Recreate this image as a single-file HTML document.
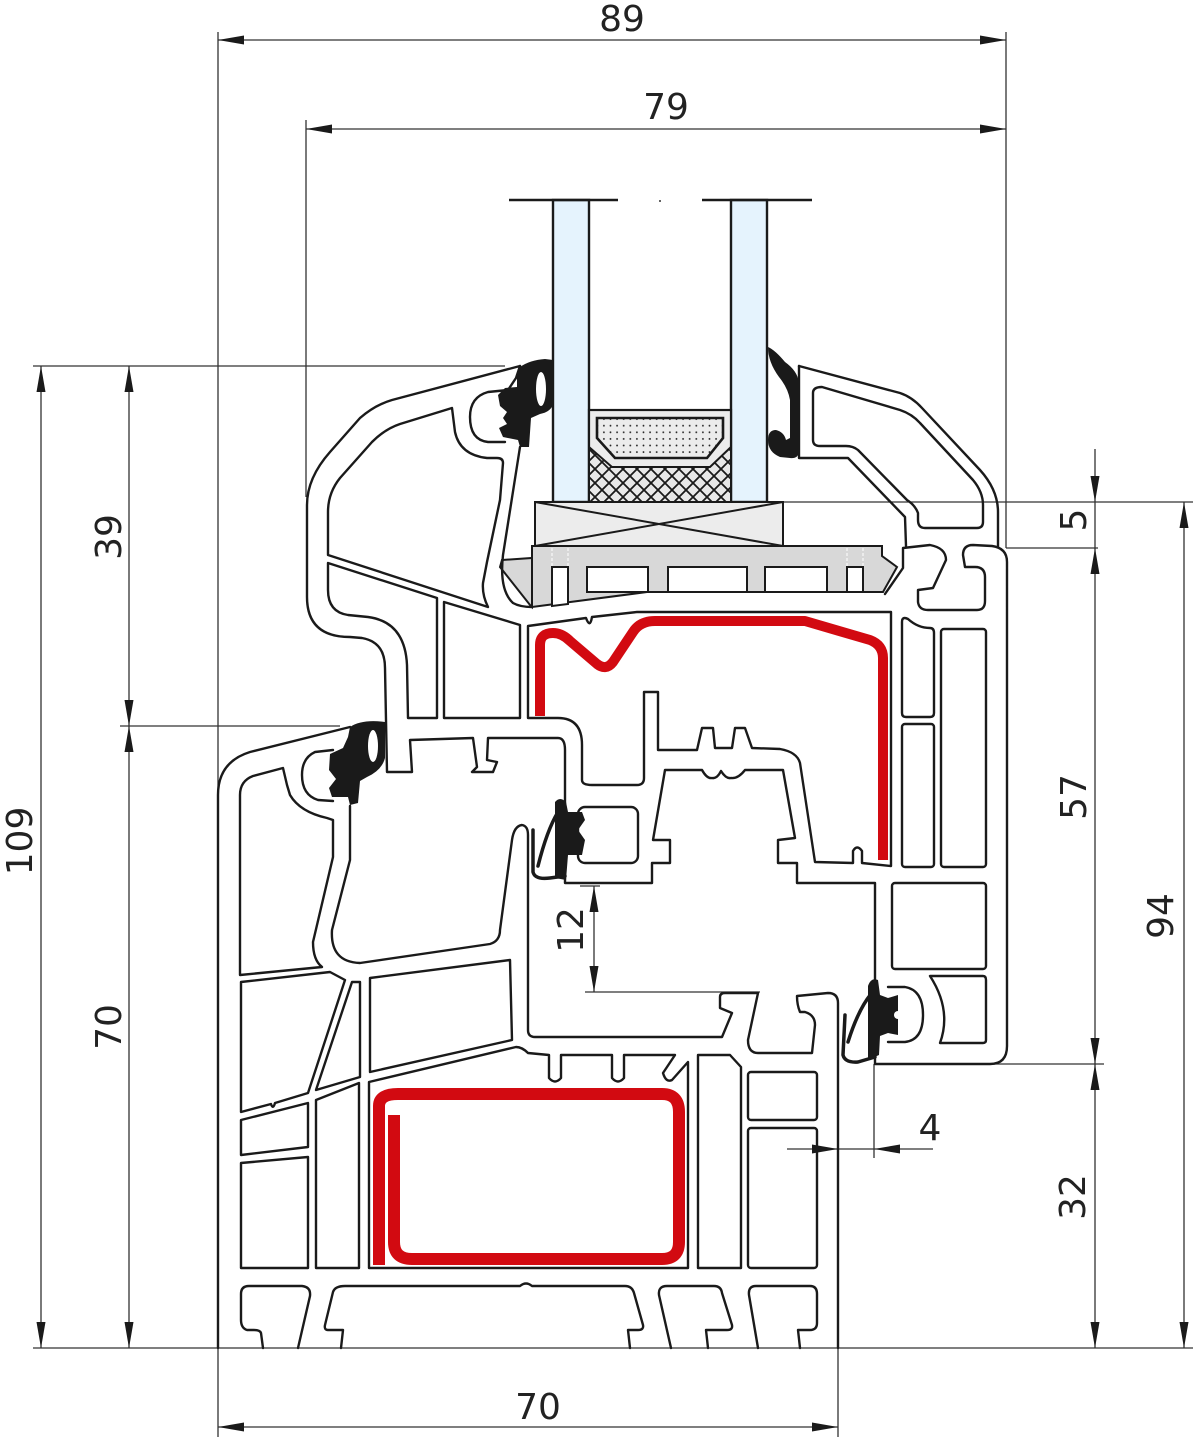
<!DOCTYPE html>
<html><head><meta charset="utf-8">
<style>
html,body{margin:0;padding:0;background:#fff;}
svg{display:block;}
</style></head><body>
<svg width="1193" height="1437" viewBox="0 0 1193 1437" xmlns="http://www.w3.org/2000/svg">
<defs>
<pattern id="dots" width="6.6" height="6.6" patternUnits="userSpaceOnUse"><rect width="6.6" height="6.6" fill="#ececec"/><circle cx="3.3" cy="3.3" r="0.9" fill="#222"/></pattern>
<pattern id="hatch" width="14" height="14" patternUnits="userSpaceOnUse"><rect width="14" height="14" fill="#e8e8e8"/><path d="M-1,-1 L15,15 M15,-1 L-1,15" stroke="#1a1a1a" stroke-width="1.8"/></pattern>
</defs>
<rect width="1193" height="1437" fill="#fff"/>

<!-- ============ DIMENSION LINES ============ -->
<g stroke="#333" stroke-width="1.3" fill="none">
  <line x1="218" y1="32" x2="218" y2="1437"/>
  <line x1="306" y1="120" x2="306" y2="497"/>
  <line x1="1006" y1="32" x2="1006" y2="548"/>
  <line x1="218" y1="40" x2="1006" y2="40"/>
  <line x1="306" y1="129" x2="1006" y2="129"/>
  <line x1="33" y1="366" x2="505" y2="366"/>
  <line x1="120" y1="726" x2="340" y2="726"/>
  <line x1="41" y1="366" x2="41" y2="1348"/>
  <line x1="129" y1="366" x2="129" y2="1348"/>
  <line x1="33" y1="1348" x2="1193" y2="1348"/>
  <line x1="838" y1="1348" x2="838" y2="1437"/>
  <line x1="218" y1="1427" x2="838" y2="1427"/>
  <line x1="783" y1="502" x2="1193" y2="502"/>
  <line x1="1006" y1="548" x2="1098" y2="548"/>
  <line x1="1095" y1="449" x2="1095" y2="1348"/>
  <line x1="987" y1="1064" x2="1104" y2="1064"/>
  <line x1="1184" y1="502" x2="1184" y2="1348"/>
  <line x1="594" y1="886" x2="594" y2="992"/>
  <line x1="580" y1="886" x2="600" y2="886"/>
  <line x1="585" y1="992" x2="760" y2="992"/>
  <line x1="787" y1="1149" x2="933" y2="1149"/>
  <line x1="874" y1="1064" x2="874" y2="1158"/>
</g>
<g fill="#1a1a1a">
  <!-- horizontal arrows -->
  <polygon points="218,40 244,35.5 244,44.5"/>
  <polygon points="1006,40 980,35.5 980,44.5"/>
  <polygon points="306,129 332,124.5 332,133.5"/>
  <polygon points="1006,129 980,124.5 980,133.5"/>
  <polygon points="218,1427 244,1422.5 244,1431.5"/>
  <polygon points="838,1427 812,1422.5 812,1431.5"/>
  <polygon points="838,1149 812,1144.5 812,1153.5"/>
  <polygon points="874,1149 900,1144.5 900,1153.5"/>
  <!-- vertical arrows -->
  <polygon points="41,366 36.5,392 45.5,392"/>
  <polygon points="41,1348 36.5,1322 45.5,1322"/>
  <polygon points="129,366 124.5,392 133.5,392"/>
  <polygon points="129,726 124.5,700 133.5,700"/>
  <polygon points="129,726 124.5,752 133.5,752"/>
  <polygon points="129,1348 124.5,1322 133.5,1322"/>
  <polygon points="1095,502 1090.5,476 1099.5,476"/>
  <polygon points="1095,548 1090.5,574 1099.5,574"/>
  <polygon points="1095,1064 1090.5,1038 1099.5,1038"/>
  <polygon points="1095,1064 1090.5,1090 1099.5,1090"/>
  <polygon points="1095,1348 1090.5,1322 1099.5,1322"/>
  <polygon points="1184,502 1179.5,528 1188.5,528"/>
  <polygon points="1184,1348 1179.5,1322 1188.5,1322"/>
  <polygon points="594,886 589.5,912 598.5,912"/>
  <polygon points="594,992 589.5,966 598.5,966"/>
</g>

<!-- dimension texts -->
<g font-family="'DejaVu Sans','Liberation Sans',sans-serif" font-size="36" fill="#222" text-anchor="middle">
  <text x="622" y="31">89</text>
  <text x="666" y="119">79</text>
  <text x="538" y="1419">70</text>
  <text x="930" y="1140">4</text>
  <text transform="translate(19,841) rotate(-90)" y="13">109</text>
  <text transform="translate(108,537) rotate(-90)" y="13">39</text>
  <text transform="translate(108,1027) rotate(-90)" y="13">70</text>
  <text transform="translate(570,930) rotate(-90)" y="13">12</text>
  <text transform="translate(1073,520) rotate(-90)" y="13">5</text>
  <text transform="translate(1073,797) rotate(-90)" y="13">57</text>
  <text transform="translate(1160,916) rotate(-90)" y="13">94</text>
  <text transform="translate(1072,1197) rotate(-90)" y="13">32</text>
</g>

<!-- ============ GLASS ============ -->
<g stroke="#1a1a1a" stroke-width="2.4">
  <rect x="553" y="200" width="36" height="302" fill="#e5f3fd"/>
  <rect x="731" y="200" width="36" height="302" fill="#e5f3fd"/>
  <line x1="509" y1="200" x2="618" y2="200"/>
  <line x1="702" y1="200" x2="812" y2="200"/>
</g>
<circle cx="660" cy="201" r="1" fill="#333"/>

<!-- spacer -->
<rect x="589" y="410" width="142" height="92" fill="#ececec" stroke="#1a1a1a" stroke-width="2.2"/>
<polygon points="589,447 612,467 710,467 731,447 731,502 589,502" fill="url(#hatch)" stroke="#1a1a1a" stroke-width="2"/>
<polygon points="597,418 723,418 723,438 707,458 615,458 597,438" fill="url(#dots)" stroke="#1a1a1a" stroke-width="2.6"/>

<!-- glazing block X-box -->
<g stroke="#1a1a1a" stroke-width="2">
  <rect x="535" y="502" width="248" height="44" fill="#ececec"/>
  <line x1="535" y1="502" x2="783" y2="546"/>
  <line x1="535" y1="546" x2="783" y2="502"/>
</g>

<!-- shim -->
<g stroke="#1a1a1a" stroke-width="2">
  <polygon points="502,560 532,558 532,607 530,605 500,567" fill="#d8d8d8"/>
  <polygon points="532,546 882,546 882,556 897,567 883,592 647,592 532,607" fill="#d8d8d8"/>
  <rect x="587" y="567" width="61" height="25" fill="#fff"/>
  <rect x="668" y="567" width="79" height="25" fill="#fff"/>
  <rect x="765" y="567" width="62" height="25" fill="#fff"/>
  <polygon points="552,567 568,567 568,604 552,606" fill="#fff"/>
  <rect x="847" y="567" width="16" height="25" fill="#fff"/>
</g>
<g stroke="#fff" stroke-width="1" stroke-dasharray="3,2">
  <line x1="552" y1="548" x2="552" y2="566"/>
  <line x1="568" y1="548" x2="568" y2="566"/>
  <line x1="847" y1="548" x2="847" y2="566"/>
  <line x1="863" y1="548" x2="863" y2="566"/>
</g>

<!-- ============ PROFILE OUTLINES ============ -->
<g fill="none" stroke="#1a1a1a" stroke-width="2.4" stroke-linejoin="round" stroke-linecap="round">
  <!-- sash outer contour -->
  <path d="M520,366 L392,400 Q375,405 360,418 L330,452 Q307,478 307,505 L307,597 Q307,637 350,637 L362,638 Q385,642 385,668 L387,772 L412,772 L410,740 L473,738 L477,767 L472,772 L493,772 L497,762 L487,760 L488,738 L558,738 Q565,738 565,750 L565,883 L652,883 L652,863 L670,863 L670,840 L653,840 L665,770 L702,770 Q707,779 712,778 Q717,779 721,771 Q726,779 731,778 Q738,779 745,770 L783,770 L795,838 L778,840 L778,863 L797,863 L797,883 L875,883 L875,1064 L990,1064 Q1007,1064 1007,1046 L1007,562 Q1007,548 992,546 L973,545 Q963,545 963,555 L965,567 L975,567 Q985,567 985,577 L985,601 Q985,610 977,610 L928,610 Q919,610 918,602 L918,590 L933,588 L946,560 Q946,548 930,545 L903,548 L903,568 L885,594"/>
  <path d="M520,366 L516,378 L508,390 L488,392 Q470,397 470,417 Q470,440 488,442 L505,442"/>
  <!-- sash glazing rebate wall -->
  <path d="M520,447 L503,555 Q499,590 513,603 Q520,607 532,607"/>
  <!-- sash chamber 1 -->
  <path d="M452,408 L400,424 Q385,429 372,442 L340,478 Q328,493 328,512 L328,555 L488,607 Q482,595 483,583 L487,562 L500,500 L503,463 Q503,458 497,458 L487,458 Q460,455 455,432 Z"/>
  <!-- sash chamber 2 -->
  <path d="M328,563 L437,598 L437,718 L408,718 L407,665 Q405,622 368,617 L348,615 Q328,612 328,590 Z"/>
  <!-- sash chamber 3 -->
  <path d="M444,602 L520,625 L520,718 L444,718 Z"/>
  <!-- sash main (steel) chamber -->
  <path d="M528,626 L528,718 L558,718 Q582,718 582,745 L582,780 Q582,785 592,785 L637,785 Q644,785 644,778 L644,692 L658,692 L658,750 L697,750 L702,728 L713,728 L715,748 L732,748 L735,728 L745,728 L752,748 L780,749 Q797,752 800,763 L815,862 L853,863 L853,851 Q857,844 862,851 L862,863 L891,866 L891,612 L637,612 L592,617 Q590,629 586,618 L528,626 Z"/>
  <!-- gasket slot rect -->
  <rect x="578" y="807" width="60" height="56" rx="7"/>
  <!-- sash right cells -->
  <path d="M902,622 Q902,616 908,619 Q918,628 930,628 Q934,628 934,633 L934,713 Q934,717 930,717 L906,717 Q902,717 902,713 Z"/>
  <rect x="902" y="724" width="32" height="143" rx="3"/>
  <rect x="941" y="629" width="45" height="238" rx="3"/>
  <rect x="892" y="883" width="94" height="86" rx="3"/>
  <path d="M930,976 L983,976 Q986,976 986,980 L986,1040 Q986,1043 983,1043 L940,1043 Q952,1010 930,976 Z"/>
  <path d="M888,987 L905,987 Q923,990 923,1015 Q923,1040 905,1042 L888,1042"/>
  <!-- glazing bead -->
  <path d="M799,366 L900,393 Q912,397 922,408 L980,470 Q998,490 998,512 L998,547"/>
  <path d="M799,366 L799,458 L848,458 L905,517 L906,546"/>
  <path d="M813,393 Q813,387 822,387 L900,410 Q912,414 920,423 L973,480 Q983,492 983,505 L983,522 Q983,528 977,528 L925,528 Q918,528 918,520 L918,513 Q915,505 907,500 L858,450 Q853,446 846,446 L820,446 Q813,446 813,440 Z"/>

  <!-- frame outer + rebate line -->
  <path d="M350,727 L250,752 Q218,762 218,795 L218,1348"/>
  <path d="M350,806 L350,860 L332,930 Q330,962 360,963 L490,944 Q500,941 500,930 L512,840 Q514,826 522,825 Q528,826 528,835 L528,1030 Q528,1037 535,1037 L722,1037 L732,1013 L720,1008 L720,997 Q720,993 725,993 L758,993 L748,1040 Q748,1053 758,1053 L812,1053 L815,1025 Q815,1015 805,1012 L800,1012 Q797,1005 797,996 L828,993 Q838,993 838,1003 L838,1348"/>
  <!-- frame gasket pocket -->
  <path d="M333,750 L315,752 Q302,758 302,775 Q302,795 318,800 L333,801"/>
  <!-- frame chamber A -->
  <path d="M283,768 L253,776 Q240,781 240,795 L240,975 L322,967 Q313,960 313,942 L333,857 L333,820 L327,818 Q300,812 290,795 L287,785 Z"/>
  <!-- B -->
  <path d="M241,982 L330,972 L345,980 L308,1093 L275,1103 Q273,1110 271,1104 L241,1112 Z"/>
  <!-- C -->
  <path d="M352,982 L360,982 L360,1077 L316,1090 Z"/>
  <!-- D -->
  <path d="M370,978 L510,960 L512,1040 L370,1072 Z"/>
  <!-- E F G -->
  <path d="M241,1120 L308,1103 L308,1147 L241,1155 Z"/>
  <path d="M241,1163 L308,1157 L308,1268 L241,1268 Z"/>
  <path d="M316,1100 L359,1083 L359,1268 L316,1268 Z"/>
  <!-- H steel chamber -->
  <path d="M369,1082 L516,1047 Q522,1047 528,1053 L549,1055 L549,1078 Q555,1085 561,1078 L561,1055 L612,1055 L612,1078 Q618,1085 624,1078 L624,1055 L675,1055 L663,1073 Q666,1083 672,1080 L688,1062 L688,1268 L369,1268 Z"/>
  <!-- I J K -->
  <path d="M698,1055 L730,1055 L741,1067 L741,1268 L698,1268 Z"/>
  <rect x="748" y="1072" width="69" height="48" rx="3"/>
  <rect x="748" y="1128" width="69" height="140" rx="3"/>
  <!-- bottom channels -->
  <path d="M263,1348 L261,1333 Q260,1330 254,1330 L247,1330 Q241,1328 241,1320 L241,1294 Q241,1286 249,1286 L302,1286 Q311,1287 310,1296 L298,1348"/>
  <path d="M341,1348 L343,1330 L328,1330 Q324,1330 325,1325 L333,1292 Q335,1286 345,1286 L520,1286 Q526,1281 532,1286 L625,1286 Q632,1286 634,1293 L643,1325 Q644,1330 638,1330 L628,1330 L630,1348"/>
  <path d="M671,1348 L659,1295 Q658,1286 667,1286 L714,1286 Q721,1286 722,1293 L732,1325 Q733,1330 727,1330 L706,1330 L708,1348"/>
  <path d="M758,1348 L749,1295 Q748,1286 756,1286 L810,1286 Q817,1286 817,1294 L817,1323 Q817,1330 810,1330 L798,1330 L800,1348"/>
</g>

<!-- ============ GASKETS (black) ============ -->
<g fill="#1a1a1a">
  <!-- sash exterior glass gasket -->
  <path d="M520,367 Q530,360 545,359 L553,360 L553,405 Q550,412 540,414 L531,418 L529,447 L520,447 L518,440 L503,437 L499,428 L507,424 L503,418 L507,412 L500,406 L498,395 L505,388 L517,387 L517,374 Z"/>
  <!-- frame top gasket -->
  <path d="M350,727 Q362,719 385,722 L385,758 Q382,770 367,777 L360,781 L358,803 L350,805 L348,797 L332,797 L329,788 L336,779 L329,770 L330,754 L343,748 L348,737 Z"/>
  <!-- bead gasket -->
  <path d="M768,347 Q775,350 785,362 Q799,372 799,385 L799,452 Q798,459 790,458 L780,457 Q768,452 768,440 Q768,430 776,430 Q784,432 786,440 L790,438 L790,400 Q788,388 779,377 Q768,362 768,347 Z"/>
  <!-- sash lower-left gasket -->
  <path d="M555,802 Q560,796 566,802 L568,812 L582,812 L585,820 L578,830 L585,840 L582,855 L568,855 L566,880 L555,878 Z"/>
  <!-- center gasket -->
  <path d="M868,986 Q871,977 878,980 L880,995 L888,998 L898,995 L898,1035 L888,1033 L880,1036 L879,1055 L868,1060 Z"/>
</g>
<g fill="#fff">
  <ellipse cx="541" cy="389" rx="5" ry="17"/>
  <ellipse cx="373" cy="746" rx="5" ry="16"/>
  <circle cx="585" cy="830" r="4"/>
  <circle cx="898" cy="1015" r="4"/>
</g>
<g fill="none" stroke="#1a1a1a" stroke-width="3.5" stroke-linecap="round" stroke-linejoin="round">
  <path d="M533,830 L533,872 Q535,880 550,878 L565,876"/>
  <path d="M538,866 Q547,830 558,812"/>
  <path d="M845,1015 L843,1055 Q845,1063 858,1062 L875,1057"/>
  <path d="M848,1042 Q858,1010 871,994"/>
</g>

<!-- ============ STEEL REINFORCEMENT (red) ============ -->
<g fill="none" stroke="#d20a11" stroke-width="10">
  <path d="M540,716 L540,645 Q540,633 553,633 Q562,633 570,641 L597,664 Q606,671 613,662 L633,632 Q640,621 655,621 L805,621 L870,640 Q883,645 883,658 L883,860" stroke-linejoin="round"/>
  <path d="M379,1265 L379,1106 Q379,1094 398,1094 L662,1094 Q679,1094 679,1112 L679,1242 Q679,1259 662,1259 L412,1259 Q394,1259 394,1242 L394,1115" stroke-width="12"/>
</g>
</svg>
</body></html>
